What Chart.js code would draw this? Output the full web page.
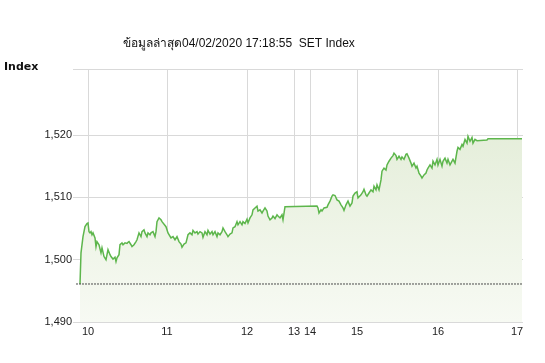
<!DOCTYPE html>
<html>
<head>
<meta charset="utf-8">
<title>SET Index</title>
<script src="https://cdn.jsdelivr.net/npm/chart.js@4.4.1/dist/chart.umd.min.js"></script>
<style>
  body { margin: 0; background: #fff; }
  #wrap { width: 545px; height: 363px; }
</style>
</head>
<body>
<div id="wrap"><canvas id="setChart" width="545" height="363"></canvas></div>
<script>
const chartTitle = 'ข้อมูลล่าสุด04/02/2020 17:18:55  SET Index';
const axisTitle = 'Index';

// session axis: slots, lunch break squeezed between 12:30 and 14:30
const hourLabels = ['10', '11', '12', '13', '14', '15', '16', '17'];
const hourSlots = [12, 91, 171, 218, 234, 281, 362, 441];
const slotMax = 447;

const yTicks = [1490, 1500, 1510, 1520];
const yMin = 1490;
const yMax = 1530.6;

const prevClose = 1496.1;

const indexSlots = [
  4, 5, 7, 9, 11, 12, 13, 14, 15, 16,
  17, 19, 20, 21, 23, 25, 26, 28, 30, 31,
  32, 34, 35, 37, 39, 40, 41, 43, 44, 46,
  47, 49, 51, 52, 53, 55, 56, 58, 60, 61,
  63, 65, 66, 68, 69, 71, 72, 74, 75, 77,
  79, 80, 81, 83, 85, 86, 90, 92, 95, 97,
  99, 101, 103, 105, 106, 108, 110, 112, 114, 116,
  117, 119, 121, 122, 124, 126, 127, 129, 131, 132,
  134, 136, 137, 139, 141, 142, 144, 146, 147, 149,
  151, 152, 154, 156, 157, 159, 161, 162, 164, 166,
  167, 169, 171, 172, 174, 176, 177, 179, 181, 182,
  184, 186, 187, 189, 191, 192, 194, 196, 197, 199,
  201, 202, 204, 206, 207, 209, 241, 242, 243, 245,
  246, 248, 251, 252, 254, 256, 257, 259, 261, 263,
  265, 267, 268, 270, 272, 274, 276, 277, 279, 281,
  282, 285, 287, 288, 290, 291, 293, 295, 297, 298,
  300, 301, 303, 305, 306, 308, 310, 311, 313, 315,
  317, 318, 320, 321, 323, 325, 326, 328, 330, 331,
  333, 335, 336, 338, 340, 341, 343, 345, 346, 348,
  350, 351, 352, 354, 356, 357, 359, 361, 362, 364,
  366, 367, 369, 371, 372, 374, 376, 377, 379, 381,
  382, 384, 386, 387, 389, 391, 392, 394, 396, 397,
  399, 401, 411, 412, 446
];

const indexValues = [
  1496.1, 1501.1, 1503.7, 1505.3, 1505.8, 1505.9, 1504.5, 1504.3, 1504.5, 1504.0,
  1504.3, 1503.5, 1502.1, 1502.9, 1502.4, 1501.1, 1501.9, 1500.5, 1500.0, 1500.8,
  1501.6, 1500.8, 1500.5, 1500.1, 1500.4, 1499.7, 1500.3, 1500.8, 1502.4, 1502.7,
  1502.4, 1502.7, 1502.6, 1502.8, 1502.9, 1502.4, 1502.1, 1502.4, 1502.9, 1503.2,
  1504.3, 1503.7, 1504.5, 1504.8, 1504.3, 1503.7, 1504.3, 1504.0, 1504.3, 1504.5,
  1503.7, 1504.5, 1506.1, 1506.7, 1506.4, 1506.1, 1505.3, 1504.3, 1503.5, 1503.7,
  1503.2, 1503.7, 1502.9, 1502.5, 1502.0, 1502.5, 1502.7, 1504.0, 1504.3, 1504.0,
  1504.7, 1504.3, 1504.5, 1504.1, 1504.5, 1504.3, 1503.6, 1504.5, 1504.0, 1504.7,
  1504.1, 1504.5, 1504.0, 1504.5, 1503.7, 1504.3, 1504.0, 1504.5, 1505.1, 1504.5,
  1504.0, 1503.7, 1504.1, 1504.3, 1505.1, 1505.3, 1506.1, 1505.6, 1506.1, 1505.6,
  1506.1, 1505.8, 1506.5, 1505.9, 1506.7, 1507.2, 1508.0, 1508.3, 1508.6, 1507.8,
  1508.0, 1507.5, 1507.8, 1508.3, 1507.8, 1507.0, 1506.4, 1506.7, 1507.0, 1506.6,
  1507.2, 1507.0, 1506.7, 1507.2, 1506.4, 1508.5, 1508.6, 1508.3, 1507.5, 1508.0,
  1507.8, 1508.3, 1508.4, 1508.8, 1509.4, 1510.2, 1510.4, 1510.3, 1509.6, 1509.4,
  1508.8, 1508.3, 1507.9, 1508.8, 1509.4, 1508.6, 1509.1, 1510.2, 1510.7, 1510.9,
  1509.9, 1510.4, 1510.9, 1511.3, 1510.4, 1510.2, 1510.7, 1511.2, 1510.9, 1511.8,
  1511.2, 1512.0, 1511.2, 1512.8, 1514.2, 1514.7, 1514.4, 1515.2, 1515.8, 1516.3,
  1516.7, 1517.1, 1516.7, 1516.1, 1516.6, 1516.1, 1516.5, 1516.1, 1516.9, 1517.0,
  1516.3, 1515.5, 1515.0, 1515.5, 1514.7, 1515.0, 1513.9, 1513.4, 1513.1, 1513.6,
  1513.9, 1514.4, 1514.7, 1515.2, 1514.7, 1515.8, 1515.2, 1516.1, 1515.2, 1516.1,
  1515.0, 1515.8, 1516.3, 1515.5, 1516.1, 1515.2, 1515.8, 1516.1, 1515.5, 1517.4,
  1518.0, 1517.7, 1518.5, 1518.2, 1519.3, 1518.7, 1519.8, 1519.0, 1519.6, 1518.7,
  1519.3, 1519.1, 1519.2, 1519.4, 1519.4
];

const labelFont = '"Liberation Sans", Arial, sans-serif';

// title line and the "Index" caption sit outside the plot
const headerText = {
  id: 'headerText',
  afterDraw(chart) {
    const c = chart.ctx;
    c.save();
    c.fillStyle = '#111';
    c.textBaseline = 'alphabetic';
    c.font = '12px Tahoma, ' + labelFont;
    c.fillText(chartTitle, 123, 47);
    c.font = 'bold 11px "DejaVu Sans", Verdana, sans-serif';
    c.fillText(axisTitle, 4, 70);
    c.restore();
  }
};

function areaFill(context) {
  const chart = context.chart;
  const area = chart.chartArea;
  if (!area) return 'rgba(226, 236, 214, 0.8)';
  const g = chart.ctx.createLinearGradient(0, area.top, 0, area.bottom);
  g.addColorStop(0, '#dfead2');
  g.addColorStop(1, '#f7faf3');
  return g;
}

const ctxSet = document.getElementById('setChart');

new Chart(ctxSet, {
  type: 'line',
  data: {
    datasets: [
      {
        label: 'Previous close',
        data: [{ x: 0, y: prevClose }, { x: slotMax, y: prevClose }],
        borderColor: '#4a4a4a',
        borderWidth: 1,
        borderDash: [2, 1],
        pointRadius: 0,
        fill: false,
        order: 0
      },
      {
        label: 'SET Index',
        data: indexSlots.map((s, i) => ({ x: s, y: indexValues[i] })),
        borderColor: '#5db64c',
        borderWidth: 1.5,
        pointRadius: 0,
        tension: 0,
        fill: 'start',
        backgroundColor: areaFill,
        order: 1
      }
    ]
  },
  options: {
    responsive: false,
    animation: false,
    layout: {
      padding: { left: 0, right: 22, top: 69, bottom: 0 }
    },
    plugins: {
      legend: { display: false },
      tooltip: { enabled: false },
      title: { display: false }
    },
    scales: {
      x: {
        type: 'linear',
        min: 0,
        max: slotMax,
        afterBuildTicks: (scale) => {
          scale.ticks = hourSlots.map(v => ({ value: v }));
        },
        afterFit: (scale) => { scale.height = 41; },
        ticks: {
          autoSkip: false,
          maxRotation: 0,
          padding: 3,
          color: '#222',
          font: { size: 11, family: labelFont },
          callback: (value, index) => hourLabels[index]
        },
        grid: { color: '#d9d9d9', drawTicks: false },
        border: { display: false }
      },
      y: {
        min: yMin,
        max: yMax,
        afterBuildTicks: (scale) => {
          scale.ticks = yTicks.concat([yMax]).map(v => ({ value: v }));
        },
        afterFit: (scale) => { scale.width = 76; },
        ticks: {
          padding: 1,
          color: '#222',
          font: { size: 11, family: labelFont },
          callback: (value) => value === yMax ? '' : value.toLocaleString('en-US')
        },
        grid: { color: '#d9d9d9', tickLength: 3 },
        border: { display: false }
      }
    }
  },
  plugins: [headerText]
});
</script>
</body>
</html>
